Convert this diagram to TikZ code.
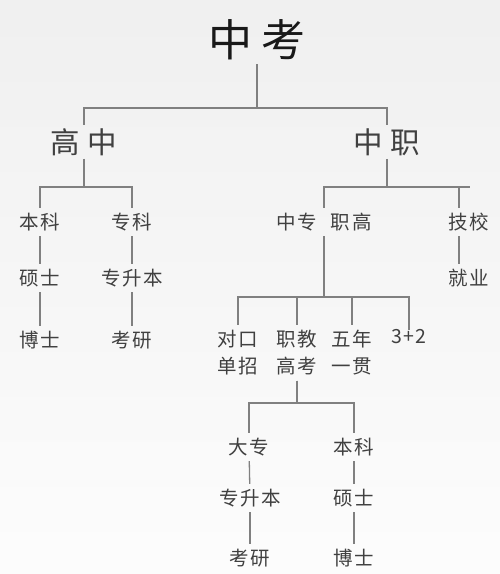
\documentclass[tikz,border=0pt]{standalone}
\usepackage{fontspec}
\newfontfamily\cjkbig[LetterSpace=20]{Noto Sans CJK SC}
\newfontfamily\cjkmid[LetterSpace=25]{Noto Sans CJK SC}
\newfontfamily\cjksmall[LetterSpace=8]{Noto Sans CJK SC}

\begin{document}
\begin{tikzpicture}[x=1pt,y=-1pt]
		\tikzstyle{title}=[font=\cjkbig\fontsize{44}{50}\selectfont,text=black!90,inner sep=4pt]
		\tikzstyle{branch}=[font=\cjkmid\fontsize{29.5}{34}\selectfont,text=black!75,inner sep=3pt]
		\tikzstyle{leaf}=[font=\cjksmall\fontsize{19.5}{27}\selectfont,text=black!75,inner xsep=2pt,inner ysep=5pt,align=center]
		\tikzstyle{link}=[draw=black!50,line width=1.3pt]

		\shade[top color=black!6,bottom color=black!1] (0,0) rectangle (500,574);
		\useasboundingbox (0,0) rectangle (500,574);

		\node[title] (zk) at (257,40) {中考};
		\node[branch] (gz) at (84,142) {高中};
		\node[branch] (zz) at (387,142) {中职};

		\node[leaf] (bk1) at (40,222) {本科};
		\node[leaf] (zk1) at (132,222) {专科};
		\node[leaf] (zzzg) at (324,222) {中专\hspace{14pt}职高};
		\node[leaf] (jx) at (469,222) {技校};

		\node[leaf] (ss1) at (40,278) {硕士};
		\node[leaf] (zsb1) at (132,278) {专升本};
		\node[leaf] (jy) at (469,278) {就业};
		\node[leaf] (bs1) at (40,340) {博士};
		\node[leaf] (ky1) at (132,340) {考研};

		\node[leaf] (dk) at (238,353) {对口\\单招};
		\node[leaf] (zj) at (297,353) {职教\\高考};
		\node[leaf] (wn) at (352,353) {五年\\一贯};
		\node[leaf,text height=0.88em,text depth=0.12em] (sj) at (409,340) {3+2};

		\node[leaf] (dz) at (249,447) {大专};
		\node[leaf] (bk2) at (354,447) {本科};
		\node[leaf] (zsb2) at (250,498) {专升本};
		\node[leaf] (ss2) at (354,498) {硕士};
		\node[leaf] (ky2) at (250,558) {考研};
		\node[leaf] (bs2) at (354,558) {博士};

		\coordinate (barend) at (470,187);

		\foreach \c in {gz,zz}
			\draw[link] (zk) -- (zk |- 0,108) -| (\c);
		\foreach \c in {bk1,zk1}
			\draw[link] (gz) -- (gz |- 0,187) -| (\c);
		\draw[link] (zz) -- (zz |- 0,187) -| (zzzg);
		\draw[link] (zz |- 0,187) -- (barend);
		\draw[link] ([xshift=-10pt]jx.north |- 0,187) -- ([xshift=-10pt]jx.north);
		\draw[link] ([xshift=-10pt]jx.south) -- ([xshift=-10pt]jy.north);
		\foreach \c in {dk,zj,wn,sj}
			\draw[link] (zzzg) -- (zzzg |- 0,297) -| (\c);
		\foreach \c in {dz,bk2}
			\draw[link] (zj) -- (zj |- 0,403) -| (\c);
		\foreach \a/\b in {bk1/ss1,ss1/bs1,zk1/zsb1,zsb1/ky1,dz/zsb2,zsb2/ky2,bk2/ss2,ss2/bs2}
			\draw[link] (\a) -- (\b);
	\end{tikzpicture}
\end{document}
